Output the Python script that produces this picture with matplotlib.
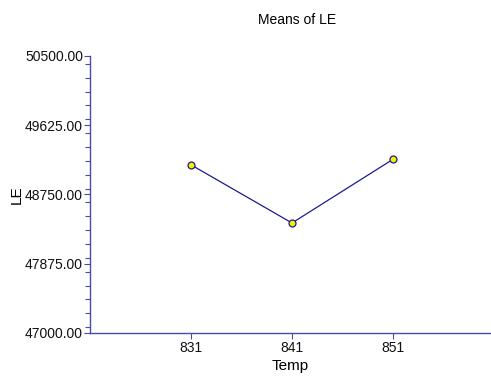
import matplotlib
matplotlib.use("Agg")
import matplotlib.pyplot as plt
from matplotlib.ticker import FixedLocator, MultipleLocator, FormatStrFormatter

plt.rcParams['font.family'] = ['Liberation Sans', 'DejaVu Sans']

temps = [831, 841, 851]
le_means = [49125, 48390, 49195]
y_ticks = [47000.00, 47875.00, 48750.00, 49625.00, 50500.00]

axis_color = '#4a4aa8'
line_color = '#1c1c8c'

fig = plt.figure(figsize=(4.91, 3.80), dpi=100)
ax = fig.add_axes([90 / 491, 47 / 380, 404 / 491, 277 / 380])

ax.plot(temps, le_means, color=line_color, linewidth=0.9, marker='o',
        markersize=5, markerfacecolor='#f5f000', markeredgecolor=line_color,
        markeredgewidth=0.9, zorder=3)

ax.set_xlim(821, 861)
ax.set_ylim(47000, 50500)
ax.xaxis.set_major_locator(FixedLocator(temps))
ax.yaxis.set_major_locator(FixedLocator(y_ticks))
ax.yaxis.set_minor_locator(MultipleLocator(175))
ax.yaxis.set_major_formatter(FormatStrFormatter('%.2f'))

for side in ('top', 'right'):
    ax.spines[side].set_visible(False)
for side in ('left', 'bottom'):
    ax.spines[side].set_color(axis_color)
    ax.spines[side].set_linewidth(1.0)

ax.tick_params(axis='both', which='both', direction='out', color=axis_color,
               labelsize=10, labelcolor='#111111')
ax.tick_params(axis='y', which='major', length=4, width=0.8, pad=1)
ax.tick_params(axis='y', which='minor', length=3.5, width=0.8)
ax.tick_params(axis='x', which='major', length=4, width=0.8, pad=2)

ax.set_title('Means of LE', fontsize=10, pad=23, x=(297 - 90) / 404)
ax.set_xlabel('Temp', fontsize=11)
ax.xaxis.set_label_coords((290 - 90) / 404, -0.095)
ax.set_ylabel('LE', fontsize=11)
ax.yaxis.set_label_coords(-0.165, 0.5)

fig.savefig('out.png', dpi=100)
